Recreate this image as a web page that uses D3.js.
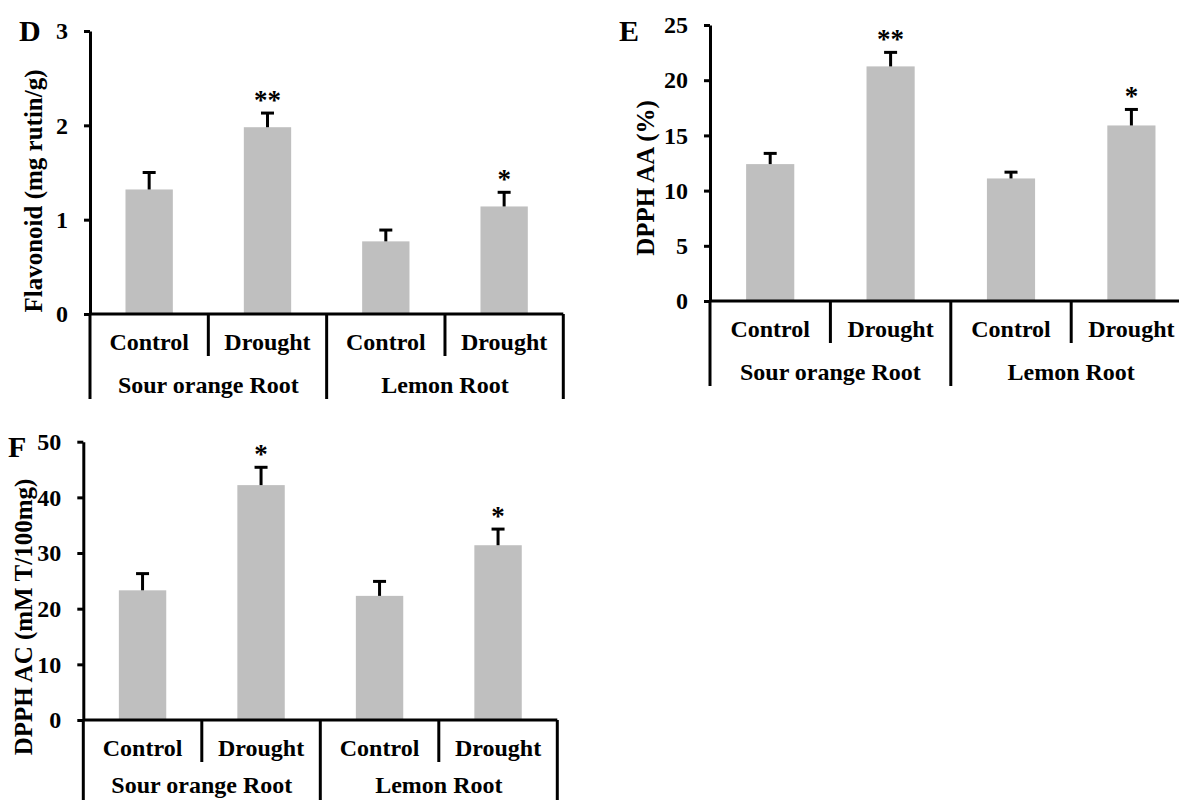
<!DOCTYPE html>
<html>
<head>
<meta charset="utf-8">
<script src="https://cdn.jsdelivr.net/npm/d3@7"></script>
<style>
  html, body { margin: 0; padding: 0; background: #fff; }
  svg { display: block; }
  text { font-family: "Liberation Serif", "Times New Roman", serif; fill: #000; }
</style>
</head>
<body>
<svg id="fig" width="1179" height="800"></svg>
<script>
// Treatments within each rootstock, and the rootstock groups
const categories = ["Control", "Drought", "Control", "Drought"];
const groups = ["Sour orange Root", "Lemon Root"];

// D: total flavonoid content (mean and SE)
const flavonoidMean = [1.32, 1.98, 0.77, 1.14];
const flavonoidErr = [0.18, 0.15, 0.12, 0.15];
const flavonoidStars = ["", "**", "", "*"];
const flavonoidTicks = [0, 1, 2, 3];

// E: DPPH antioxidant activity (%)
const dpphAAMean = [12.4, 21.25, 11.1, 15.9];
const dpphAAErr = [0.97, 1.27, 0.57, 1.45];
const dpphAAStars = ["", "**", "", "*"];
const dpphAATicks = [0, 5, 10, 15, 20, 25];

// F: DPPH antioxidant capacity (mM Trolox / 100 mg)
const dpphACMean = [23.3, 42.2, 22.3, 31.4];
const dpphACErr = [3.0, 3.2, 2.6, 2.9];
const dpphACStars = ["", "*", "", "*"];
const dpphACTicks = [0, 10, 20, 30, 40, 50];

const svg = d3.select("#fig");
const BAR = "#bfbfbf";
const LABEL_FS = 24;

function panel(cfg) {
  const g = svg.append("g");
  const y = d3.scaleLinear().domain([0, cfg.ticks[cfg.ticks.length - 1]]).range([cfg.y0, cfg.yTop]);
  const x = d3.scaleBand().domain(d3.range(categories.length))
    .range([cfg.x0, cfg.x1]).paddingInner(0.6).paddingOuter(0.3);
  const step = x.step();
  const cx = i => x(i) + x.bandwidth() / 2;

  // bars
  g.selectAll("rect.bar").data(cfg.mean).join("rect")
    .attr("class", "bar")
    .attr("x", (d, i) => x(i))
    .attr("width", x.bandwidth())
    .attr("y", d => y(d))
    .attr("height", d => y(0) - y(d))
    .attr("fill", BAR);

  // upper error bars
  const eb = g.selectAll("g.err").data(cfg.mean).join("g").attr("class", "err");
  eb.append("line")
    .attr("x1", (d, i) => cx(i))
    .attr("x2", (d, i) => cx(i))
    .attr("y1", d => y(d))
    .attr("y2", (d, i) => y(d + cfg.err[i]))
    .attr("stroke", "#000").attr("stroke-width", 3);
  eb.append("line")
    .attr("x1", (d, i) => cx(i) - 6.5)
    .attr("x2", (d, i) => cx(i) + 6.5)
    .attr("y1", (d, i) => y(d + cfg.err[i]))
    .attr("y2", (d, i) => y(d + cfg.err[i]))
    .attr("stroke", "#000").attr("stroke-width", 3);

  // significance marks
  g.selectAll("text.star").data(cfg.mean).join("text")
    .attr("class", "star")
    .attr("x", (d, i) => cx(i))
    .attr("y", (d, i) => y(d + cfg.err[i]) - 4)
    .attr("text-anchor", "middle")
    .attr("font-weight", "bold")
    .attr("font-size", 27)
    .text((d, i) => cfg.stars[i]);

  // value axis
  const axis = d3.axisLeft(y).tickValues(cfg.ticks).tickFormat(d3.format("d"))
    .tickSize(6).tickSizeOuter(0).tickPadding(16);
  const ag = g.append("g").attr("transform", `translate(${cfg.x0},0)`).call(axis);
  ag.select(".domain").attr("stroke", "#000").attr("stroke-width", 3);
  ag.selectAll(".tick line").attr("stroke", "#000").attr("stroke-width", 3);
  ag.selectAll(".tick text")
    .attr("font-family", "Liberation Serif, Times New Roman, serif")
    .attr("font-weight", "bold").attr("font-size", LABEL_FS).attr("fill", "#000");

  // category axis line
  g.append("line")
    .attr("x1", cfg.x0).attr("x2", cfg.x1)
    .attr("y1", y(0)).attr("y2", y(0))
    .attr("stroke", "#000").attr("stroke-width", 3);

  // separators: short ones between treatments, long ones between groups
  d3.range(categories.length + 1).forEach(i => {
    const xx = cfg.x0 + i * step;
    const len = i % 2 === 0 ? 85 : 42;
    g.append("line")
      .attr("x1", xx).attr("x2", xx)
      .attr("y1", y(0)).attr("y2", y(0) + len)
      .attr("stroke", "#000").attr("stroke-width", 3);
  });

  // treatment labels
  g.selectAll("text.cat").data(categories).join("text")
    .attr("class", "cat")
    .attr("x", (d, i) => cx(i))
    .attr("y", y(0) + 36)
    .attr("text-anchor", "middle")
    .attr("font-weight", "bold").attr("font-size", LABEL_FS)
    .text(d => d);

  // rootstock group labels
  g.selectAll("text.grp").data(groups).join("text")
    .attr("class", "grp")
    .attr("x", (d, i) => cfg.x0 + (2 * i + 1) * step)
    .attr("y", y(0) + cfg.groupDy)
    .attr("text-anchor", "middle")
    .attr("font-weight", "bold").attr("font-size", LABEL_FS)
    .text(d => d);

  // axis title
  g.append("text")
    .attr("transform", `translate(${cfg.titleX},${cfg.titleY}) rotate(-90)`)
    .attr("text-anchor", "middle")
    .attr("dominant-baseline", "central")
    .attr("font-weight", "bold").attr("font-size", 25)
    .text(cfg.title);

  // panel letter
  g.append("text")
    .attr("x", cfg.letterX).attr("y", cfg.letterY)
    .attr("font-weight", "bold").attr("font-size", 30)
    .text(cfg.letter);
}

panel({
  letter: "D", letterX: 19, letterY: 41,
  title: "Flavonoid (mg rutin/g)", titleX: 33, titleY: 191,
  x0: 90, x1: 563.3, yTop: 31, y0: 314, groupDy: 79,
  mean: flavonoidMean, err: flavonoidErr, stars: flavonoidStars, ticks: flavonoidTicks
});

panel({
  letter: "E", letterX: 619, letterY: 41,
  title: "DPPH AA (%)", titleX: 645, titleY: 178,
  x0: 710, x1: 1191.6, yTop: 25, y0: 301, groupDy: 79,
  mean: dpphAAMean, err: dpphAAErr, stars: dpphAAStars, ticks: dpphAATicks
});

panel({
  letter: "F", letterX: 8, letterY: 457,
  title: "DPPH AC (mM T/100mg)", titleX: 23, titleY: 617,
  x0: 83.3, x1: 557.3, yTop: 441.7, y0: 720, groupDy: 73,
  mean: dpphACMean, err: dpphACErr, stars: dpphACStars, ticks: dpphACTicks
});
</script>
</body>
</html>
